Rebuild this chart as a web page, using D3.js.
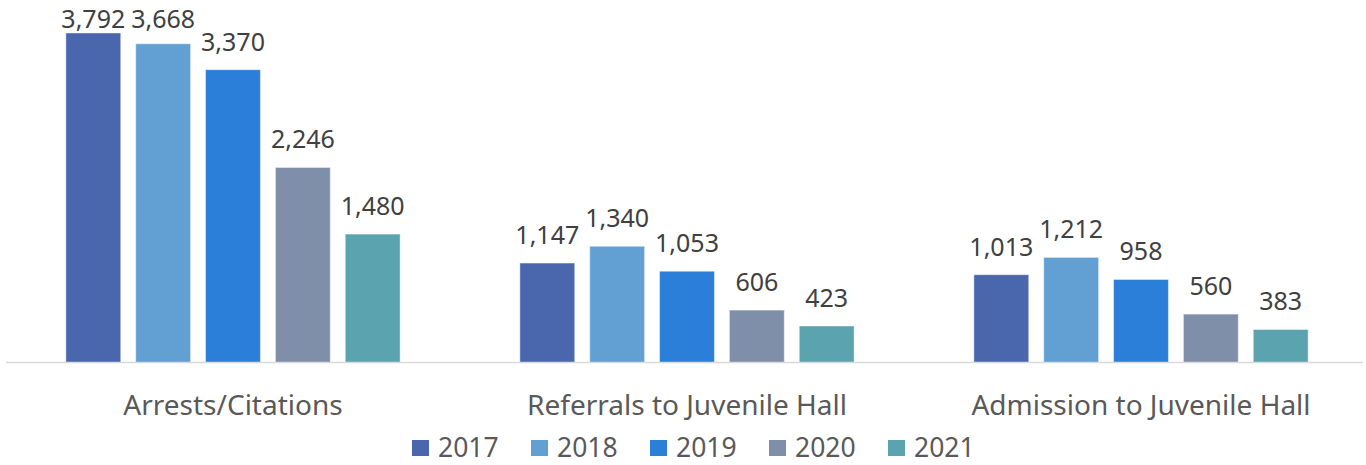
<!DOCTYPE html>
<html>
<head>
<meta charset="utf-8">
<script src="https://cdn.jsdelivr.net/npm/d3@7"></script>
<style>
  html, body { margin: 0; padding: 0; background: #fff; }
  svg { display: block; }
  text { font-family: "Noto Sans", "Open Sans", sans-serif; }
</style>
</head>
<body>
<svg id="chart" width="1366" height="465"></svg>
<script>
// Juvenile justice counts by stage and year
const categories = ["Arrests/Citations", "Referrals to Juvenile Hall", "Admission to Juvenile Hall"];
const years = ["2017", "2018", "2019", "2020", "2021"];
const values2017 = [3792, 1147, 1013];
const values2018 = [3668, 1340, 1212];
const values2019 = [3370, 1053, 958];
const values2020 = [2246, 606, 560];
const values2021 = [1480, 423, 383];
const yearColors = ["#4A67AD", "#629FD3", "#2B7FD8", "#7F8FA9", "#5BA3AE"];

const seriesValues = [values2017, values2018, values2019, values2020, values2021];
const rows = categories.map((c, i) => ({
  category: c,
  bars: years.map((y, j) => ({ year: y, value: seriesValues[j][i] }))
}));

const svg = d3.select("#chart");

const x0 = d3.scaleBand().domain(categories).range([6, 1368]).paddingInner(0).paddingOuter(0);
const x1 = d3.scaleBand().domain(years).range([0, x0.bandwidth()])
  .paddingInner(15 / 70).paddingOuter(60 / 70);
const y = d3.scaleLinear().domain([0, 4000]).range([362.8, 14.9]);
const color = d3.scaleOrdinal().domain(years).range(yearColors);
const fmt = d3.format(",");

// bars
const groups = svg.append("g").selectAll("g").data(rows).join("g")
  .attr("transform", d => `translate(${x0(d.category)},0)`);

groups.selectAll("rect").data(d => d.bars).join("rect")
  .attr("x", d => x1(d.year))
  .attr("y", d => y(d.value))
  .attr("width", x1.bandwidth())
  .attr("height", d => y(0) - y(d.value))
  .attr("fill", d => color(d.year))
  .attr("stroke", "rgba(255,255,255,0.45)")
  .attr("stroke-width", 1);

// value labels above bars (kept inside the top edge)
groups.selectAll("text").data(d => d.bars).join("text")
  .attr("x", d => x1(d.year) + x1.bandwidth() / 2)
  .attr("y", d => Math.max(y(d.value) - 19, 28))
  .attr("text-anchor", "middle")
  .attr("font-size", 25)
  .attr("fill", "#404040")
  .text(d => fmt(d.value));

// category axis
const xAxis = svg.append("g").attr("transform", `translate(0,${362})`)
  .call(d3.axisBottom(x0).tickSize(0).tickPadding(0));
xAxis.select(".domain").attr("d", "M6,0.5H1363").attr("stroke", "#D9D9D9").attr("stroke-width", 1.5);
xAxis.selectAll(".tick text")
  .attr("y", 53)
  .attr("dy", 0)
  .attr("font-size", 28)
  .attr("font-family", "Noto Sans, Open Sans, sans-serif")
  .attr("fill", "#595959");

// legend
const legend = svg.append("g").attr("transform", "translate(412,440)");
const item = legend.selectAll("g").data(years).join("g")
  .attr("transform", (d, i) => `translate(${i * 119},0)`);
item.append("rect").attr("width", 17).attr("height", 16).attr("fill", d => color(d));
item.append("text").attr("x", 26).attr("y", 17)
  .attr("font-size", 26.5).attr("fill", "#595959").text(d => d);
</script>
</body>
</html>
